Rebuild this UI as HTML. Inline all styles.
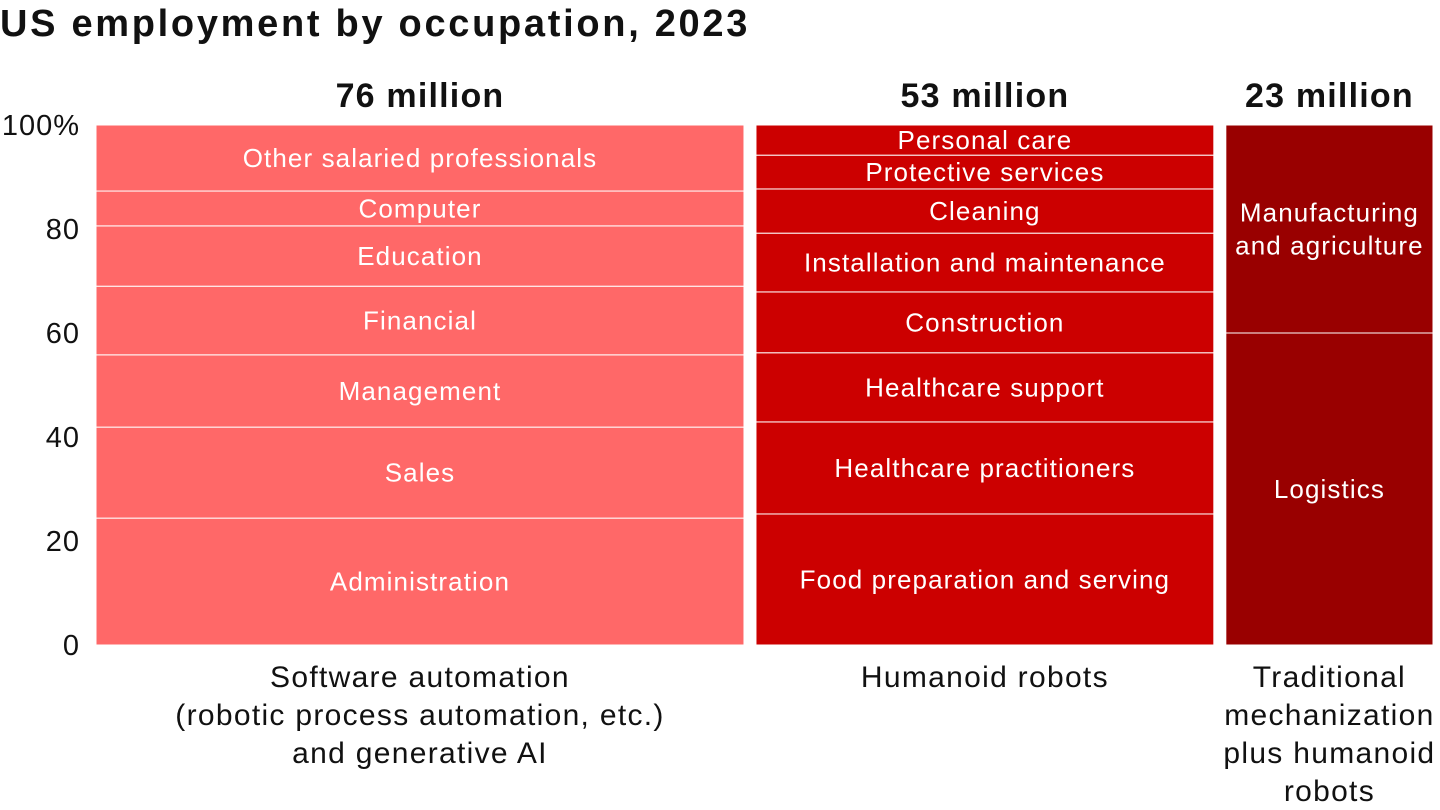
<!DOCTYPE html>
<html><head><meta charset="utf-8">
<style>
html,body{margin:0;padding:0;background:#fff;width:1440px;height:810px;overflow:hidden;font-family:"Liberation Sans",sans-serif;}
svg text{font-family:"Liberation Sans",sans-serif;}
</style></head>
<body>
<svg id="chart" width="1440" height="810" xmlns="http://www.w3.org/2000/svg">
<text x="0" y="36" font-size="38" font-weight="bold" letter-spacing="2.7" fill="#111">US employment by occupation, 2023</text>
</svg>
<script>
const groupNames = ["Software automation", "Humanoid robots", "Traditional mechanization"];
const groupTotals = [76, 53.7, 24.3];
const groupLabels = ["76 million", "53 million", "23 million"];
const groupAxisLabels = [
  ["Software automation", "(robotic process automation, etc.)", "and generative AI"],
  ["Humanoid robots"],
  ["Traditional", "mechanization", "plus humanoid", "robots"]
];
const segNames1 = ["Administration","Sales","Management","Financial","Education","Computer","Other salaried professionals"];
const segVals1 = [24.4,17.5,13.9,13.2,11.6,6.7,12.7];
const segNames2 = ["Food preparation and serving","Healthcare practitioners","Healthcare support","Construction","Installation and maintenance","Cleaning","Protective services","Personal care"];
const segVals2 = [25.2,17.7,13.3,11.7,11.3,8.5,6.5,5.8];
const segNames3 = ["Logistics","Manufacturing\nand agriculture"];
const segVals3 = [60,40];
const yTicks = [0,20,40,60,80,100];
const yTickLabels = ["0","20","40","60","80","100%"];

const svg = document.getElementById('chart');
const NS = "http://www.w3.org/2000/svg";
const colors = ["#ff6868","#cc0000","#990000"];
const plotTop = 125, plotBottom = 645, plotLeft = 96, plotRight = 1433, gap = 12;
const y = v => plotBottom - (v/100)*(plotBottom-plotTop);
const totalSum = groupTotals.reduce((a,b)=>a+b,0);
const xScale = (plotRight-plotLeft-gap*(groupTotals.length-1))/totalSum;

function mk(tag, attrs){const e=document.createElementNS(NS,tag);for(const k in attrs)e.setAttribute(k,attrs[k]);svg.appendChild(e);return e;}

yTicks.forEach((t,i)=>{
  const e=mk('text',{x:80,y:y(t)+10,'font-size':29,'letter-spacing':1,'text-anchor':'end',fill:'#111'});
  e.textContent=yTickLabels[i];
  
  
});

const segs=[[segNames1,segVals1],[segNames2,segVals2],[segNames3,segVals3]];
let x0=plotLeft;
groupTotals.forEach((tot,gi)=>{
  const w=tot*xScale, cx=x0+w/2;
  const [names,vals]=segs[gi];
  let acc=0;
  vals.forEach((v,si)=>{
    const yt=y(acc+v), yb=y(acc);
    const r=mk('rect',{x:x0,y:yt,width:w,height:yb-yt,fill:colors[gi],stroke:'#fff','stroke-width':1});
    
    
    const lines=names[si].split('\n');
    const mid=(yt+yb)/2;
    lines.forEach((ln,li)=>{
      const t=mk('text',{x:cx,y:mid+9+(li-(lines.length-1)/2)*33,'font-size':26,'letter-spacing':1.1,'text-anchor':'middle',fill:'#fff'});
      t.textContent=ln;
      
      
    });
    acc+=v;
  });
  const h=mk('text',{x:cx,y:107,'font-size':34,'font-weight':'bold','letter-spacing':1.2,'text-anchor':'middle',fill:'#111'});
  h.textContent=groupLabels[gi];
  
  
  groupAxisLabels[gi].forEach((ln,li)=>{
    const t=mk('text',{x:cx,y:687+li*38,'font-size':30,'letter-spacing':1.3,'text-anchor':'middle',fill:'#111'});
    t.textContent=ln;
    
    
  });
  x0+=w+gap;
});
</script>
</body></html>
